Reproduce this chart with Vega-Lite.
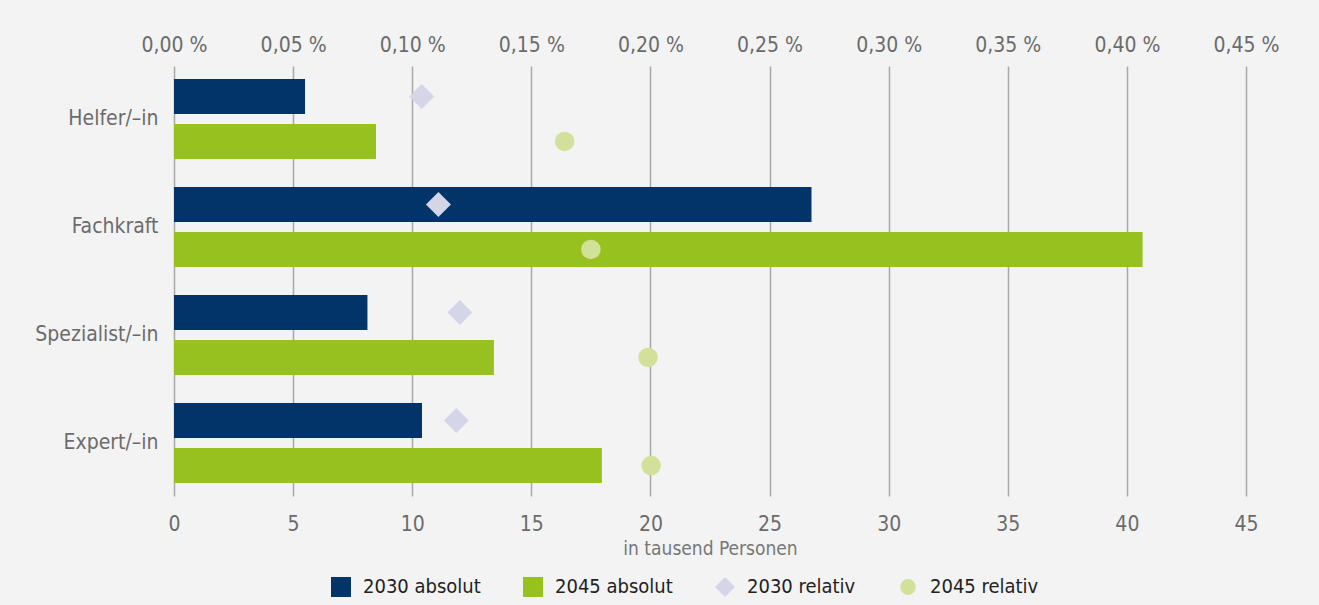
{
  "$schema": "https://vega.github.io/schema/vega-lite/v6.json",
  "width": 1072,
  "height": 430,
  "autosize": {"type": "none"},
  "padding": {"left": 174, "top": 66, "right": 73, "bottom": 109},
  "background": "#f3f3f3",
  "config": {
    "view": {"stroke": null},
    "font": "Liberation Sans Narrow, DejaVu Sans Condensed, Open Sans, sans-serif",
    "axis": {
      "labelFont": "Liberation Sans Narrow, DejaVu Sans Condensed, Open Sans, sans-serif",
      "labelFontSize": 21,
      "labelColor": "#6b6b6b",
      "labelFlush": false,
      "labelOverlap": false,
      "domain": false,
      "ticks": false
    },
    "legend": {
      "orient": "none",
      "legendX": 157,
      "legendY": 511,
      "direction": "horizontal",
      "labelFont": "Liberation Sans Narrow, DejaVu Sans Condensed, Open Sans, sans-serif",
      "labelFontSize": 20,
      "labelColor": "#222222",
      "symbolSize": 400,
      "symbolStrokeWidth": 0,
      "symbolOpacity": 1,
      "columnPadding": 42,
      "labelOffset": 12
    }
  },
  "data": {
    "values": [
      {"kategorie": "Helfer/–in", "jahr": "2030", "typ": "absolut", "legende": "2030 absolut", "wert": 5.5},
      {"kategorie": "Helfer/–in", "jahr": "2045", "typ": "absolut", "legende": "2045 absolut", "wert": 8.48},
      {"kategorie": "Fachkraft", "jahr": "2030", "typ": "absolut", "legende": "2030 absolut", "wert": 26.76},
      {"kategorie": "Fachkraft", "jahr": "2045", "typ": "absolut", "legende": "2045 absolut", "wert": 40.66},
      {"kategorie": "Spezialist/–in", "jahr": "2030", "typ": "absolut", "legende": "2030 absolut", "wert": 8.12},
      {"kategorie": "Spezialist/–in", "jahr": "2045", "typ": "absolut", "legende": "2045 absolut", "wert": 13.43},
      {"kategorie": "Expert/–in", "jahr": "2030", "typ": "absolut", "legende": "2030 absolut", "wert": 10.41},
      {"kategorie": "Expert/–in", "jahr": "2045", "typ": "absolut", "legende": "2045 absolut", "wert": 17.96},
      {"kategorie": "Helfer/–in", "jahr": "2030", "typ": "relativ", "legende": "2030 relativ", "wert": 0.104},
      {"kategorie": "Helfer/–in", "jahr": "2045", "typ": "relativ", "legende": "2045 relativ", "wert": 0.164},
      {"kategorie": "Fachkraft", "jahr": "2030", "typ": "relativ", "legende": "2030 relativ", "wert": 0.111},
      {"kategorie": "Fachkraft", "jahr": "2045", "typ": "relativ", "legende": "2045 relativ", "wert": 0.175},
      {"kategorie": "Spezialist/–in", "jahr": "2030", "typ": "relativ", "legende": "2030 relativ", "wert": 0.12},
      {"kategorie": "Spezialist/–in", "jahr": "2045", "typ": "relativ", "legende": "2045 relativ", "wert": 0.199},
      {"kategorie": "Expert/–in", "jahr": "2030", "typ": "relativ", "legende": "2030 relativ", "wert": 0.1185},
      {"kategorie": "Expert/–in", "jahr": "2045", "typ": "relativ", "legende": "2045 relativ", "wert": 0.2003}
    ]
  },
  "encoding": {
    "y": {
      "field": "kategorie",
      "type": "nominal",
      "sort": ["Helfer/–in", "Fachkraft", "Spezialist/–in", "Expert/–in"],
      "scale": {"paddingInner": 0.26, "paddingOuter": 0.12},
      "axis": {"title": null, "labelPadding": 16}
    },
    "yOffset": {
      "field": "jahr",
      "type": "nominal",
      "sort": ["2030", "2045"],
      "scale": {"paddingInner": 0.22, "paddingOuter": 0}
    }
  },
  "layer": [
    {
      "transform": [{"filter": "datum.typ === 'absolut'"}],
      "mark": {"type": "bar"},
      "encoding": {
        "x": {
          "field": "wert",
          "type": "quantitative",
          "scale": {"domain": [0, 45], "nice": false},
          "axis": {
            "orient": "bottom",
            "values": [0, 5, 10, 15, 20, 25, 30, 35, 40, 45],
            "grid": true,
            "gridColor": "#a8a8a8",
            "gridWidth": 1.5,
            "labelPadding": 17,
            "title": "in tausend Personen",
            "titleFontSize": 19,
            "titleFontWeight": "normal",
            "titleColor": "#777777",
            "titlePadding": 5,
            "titleFont": "Liberation Sans Narrow, DejaVu Sans Condensed, Open Sans, sans-serif"
          }
        },
        "color": {
          "field": "legende",
          "type": "nominal",
          "scale": {
            "domain": ["2030 absolut", "2045 absolut", "2030 relativ", "2045 relativ"],
            "range": ["#02346a", "#97c11f", "#d5d5e8", "#d1e19a"]
          },
          "legend": {
            "title": null,
            "encode": {"symbols": {"update": {"size": {"signal": "datum.value === '2045 relativ' ? 250 : 400"}}}}
          }
        }
      }
    },
    {
      "transform": [{"filter": "datum.typ === 'relativ'"}],
      "mark": {"type": "point", "filled": true, "opacity": 1},
      "encoding": {
        "x": {
          "field": "wert",
          "type": "quantitative",
          "scale": {"domain": [0, 0.45], "nice": false},
          "axis": {
            "orient": "top",
            "values": [0, 0.05, 0.1, 0.15, 0.2, 0.25, 0.3, 0.35, 0.4, 0.45],
            "grid": false,
            "labelPadding": 11,
            "labelExpr": "replace(format(datum.value, '.2f'), '.', ',') + ' %'",
            "title": null
          }
        },
        "color": {
          "field": "legende",
          "type": "nominal",
          "scale": {
            "domain": ["2030 absolut", "2045 absolut", "2030 relativ", "2045 relativ"],
            "range": ["#02346a", "#97c11f", "#d5d5e8", "#d1e19a"]
          },
          "legend": {
            "title": null,
            "encode": {"symbols": {"update": {"size": {"signal": "datum.value === '2045 relativ' ? 250 : 400"}}}}
          }
        },
        "shape": {
          "field": "legende",
          "type": "nominal",
          "scale": {
            "domain": ["2030 absolut", "2045 absolut", "2030 relativ", "2045 relativ"],
            "range": ["square", "square", "diamond", "circle"]
          },
          "legend": {
            "title": null,
            "encode": {"symbols": {"update": {"size": {"signal": "datum.value === '2045 relativ' ? 250 : 400"}}}}
          }
        },
        "size": {
          "condition": {"test": "datum.jahr === '2030'", "value": 625},
          "value": 380
        }
      }
    }
  ],
  "resolve": {"scale": {"x": "independent"}, "axis": {"x": "independent"}}
}
